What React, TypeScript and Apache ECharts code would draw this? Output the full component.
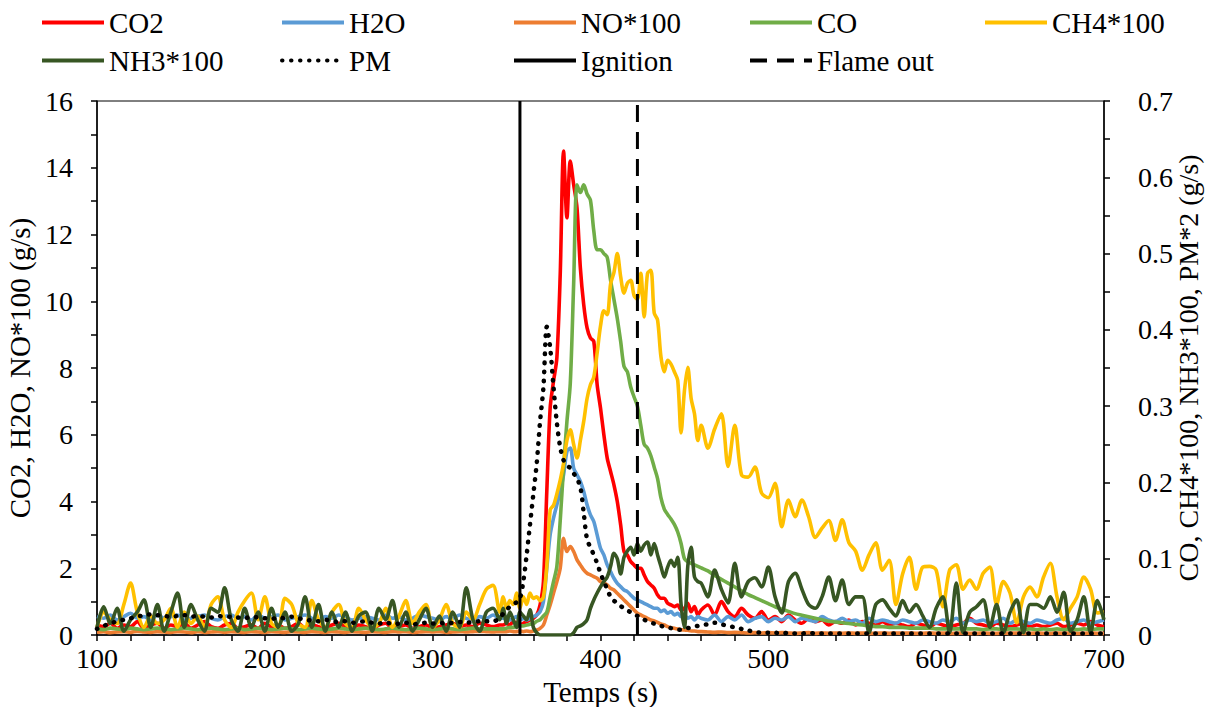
import { useEffect, useRef } from 'react';
import * as echarts from 'echarts';

// Time grid (s)
const T = [
  100,104,108,112,116,120,124,128,132,136,
  140,144,148,152,156,160,164,168,172,176,
  180,184,188,192,196,200,204,208,212,216,
  220,224,228,232,236,240,244,248,252,256,
  260,264,268,272,276,280,284,288,292,296,
  300,304,308,312,316,320,324,328,332,336,
  340,
  342,344,346,348,350,352,354,356,358,360,
  362,364,366,368,370,372,374,376,378,380,
  382,384,386,388,390,392,394,396,398,400,
  402,404,406,408,410,412,414,416,418,420,
  422,424,426,428,430,432,434,436,438,440,
  442,444,446,448,450,452,454,456,458,460,
  464,468,472,476,480,484,488,492,496,500,
  504,508,512,516,520,524,528,532,536,540,
  544,548,552,556,560,564,568,572,576,580,
  584,588,592,596,600,604,608,612,616,620,
  624,628,632,636,640,644,648,652,656,660,
  664,668,672,676,680,684,688,692,696,700,
];

// Left axis (g/s)
const CO2 = [
  0.3,0.25,0.35,0.2,0.3,0.25,0.4,0.2,0.3,0.35,
  0.2,0.3,0.25,0.35,0.2,0.3,0.4,0.25,0.2,0.3,
  0.35,0.2,0.25,0.3,0.2,0.35,0.25,0.3,0.2,0.25,
  0.35,0.2,0.3,0.25,0.2,0.3,0.35,0.25,0.2,0.3,
  0.25,0.2,0.3,0.35,0.2,0.25,0.3,0.2,0.25,0.3,
  0.2,0.25,0.3,0.35,0.25,0.3,0.25,0.35,0.3,0.25,
  0.3,
  0.3,0.35,0.3,0.4,0.35,0.3,0.35,0.4,0.45,0.5,
  0.6,0.9,1.6,4.3,6.8,7.6,8.3,10.8,14.5,12.5,
  14.2,13.5,12.8,11.0,9.9,9.2,8.9,8.8,7.5,6.8,
  6.0,5.3,4.9,4.5,4.0,3.3,2.5,2.4,2.2,2.1,
  2.0,2.0,1.8,1.6,1.5,1.4,1.2,1.1,1.1,0.95,
  0.9,0.85,0.9,0.75,0.8,0.95,0.7,0.85,0.6,0.75,
  0.9,0.6,1.0,0.7,0.55,0.8,0.6,0.5,0.7,0.45,
  0.55,0.4,0.6,0.45,0.35,0.5,0.4,0.45,0.3,0.4,
  0.35,0.45,0.3,0.4,0.35,0.3,0.4,0.3,0.35,0.3,
  0.25,0.35,0.3,0.25,0.35,0.3,0.25,0.3,0.35,0.5,
  0.35,0.3,0.25,0.35,0.3,0.25,0.3,0.35,0.25,0.3,
  0.25,0.3,0.35,0.25,0.3,0.35,0.3,0.4,0.3,0.25,
];

const H2O = [
  0.55,0.5,0.6,0.45,0.55,0.65,0.5,0.55,0.45,0.6,
  0.5,0.55,0.6,0.45,0.5,0.55,0.6,0.5,0.45,0.55,
  0.6,0.5,0.55,0.45,0.6,0.5,0.55,0.6,0.45,0.5,
  0.55,0.6,0.5,0.45,0.55,0.5,0.6,0.55,0.45,0.5,
  0.55,0.5,0.45,0.6,0.5,0.55,0.45,0.5,0.6,0.55,
  0.5,0.45,0.55,0.5,0.6,0.5,0.45,0.55,0.5,0.6,
  0.5,
  0.5,0.55,0.45,0.5,0.55,0.45,0.5,0.45,0.5,0.55,
  0.6,0.7,1.0,2.0,3.0,3.5,3.9,4.3,4.8,5.5,
  5.6,5.0,4.8,4.6,4.3,3.9,3.6,3.4,3.0,2.6,
  2.4,2.1,1.9,1.7,1.55,1.45,1.35,1.3,1.2,1.1,
  1.05,1.0,0.95,0.9,0.85,0.8,0.8,0.7,0.75,0.65,
  0.7,0.6,0.65,0.55,0.6,0.5,0.55,0.45,0.55,0.5,
  0.45,0.6,0.4,0.55,0.45,0.6,0.4,0.5,0.55,0.4,
  0.5,0.45,0.55,0.4,0.5,0.45,0.4,0.55,0.45,0.4,
  0.5,0.4,0.45,0.35,0.5,0.4,0.45,0.4,0.35,0.45,
  0.4,0.35,0.45,0.4,0.35,0.45,0.4,0.5,0.35,0.45,
  0.4,0.45,0.35,0.4,0.5,0.35,0.45,0.4,0.35,0.45,
  0.4,0.35,0.45,0.5,0.35,0.4,0.45,0.35,0.4,0.45,
];

const NO100 = [
  0.08,0.1,0.07,0.09,0.1,0.08,0.11,0.09,0.08,0.1,
  0.09,0.08,0.1,0.09,0.07,0.1,0.08,0.09,0.1,0.08,
  0.1,0.09,0.08,0.1,0.09,0.08,0.1,0.09,0.08,0.1,
  0.09,0.08,0.1,0.09,0.08,0.1,0.09,0.08,0.1,0.09,
  0.08,0.1,0.09,0.08,0.1,0.09,0.1,0.08,0.09,0.1,
  0.09,0.1,0.08,0.09,0.1,0.09,0.1,0.11,0.1,0.09,
  0.1,
  0.1,0.1,0.12,0.1,0.1,0.12,0.1,0.12,0.1,0.12,
  0.15,0.2,0.3,0.6,0.9,1.25,1.6,2.0,2.9,2.5,
  2.65,2.5,2.25,2.1,1.95,1.85,1.8,1.75,1.7,1.6,
  1.55,1.5,1.4,1.35,1.25,1.15,1.05,0.95,0.85,0.75,
  0.65,0.6,0.55,0.5,0.45,0.42,0.38,0.33,0.3,0.25,
  0.22,0.2,0.18,0.16,0.15,0.14,0.12,0.12,0.1,0.1,
  0.09,0.08,0.09,0.07,0.08,0.07,0.06,0.07,0.06,0.07,
  0.06,0.07,0.06,0.05,0.06,0.07,0.05,0.06,0.05,0.06,
  0.05,0.06,0.05,0.06,0.05,0.05,0.06,0.05,0.06,0.05,
  0.06,0.05,0.05,0.06,0.05,0.06,0.05,0.05,0.06,0.05,
  0.05,0.06,0.05,0.05,0.06,0.05,0.06,0.05,0.05,0.06,
  0.05,0.05,0.06,0.05,0.06,0.05,0.05,0.06,0.05,0.05,
];

// Right axis (g/s)
const CO = [
  0.008,0.007,0.009,0.008,0.007,0.009,0.008,0.007,0.008,0.009,
  0.008,0.007,0.008,0.009,0.008,0.007,0.008,0.009,0.008,0.007,
  0.008,0.009,0.007,0.008,0.009,0.008,0.007,0.008,0.009,0.008,
  0.007,0.008,0.009,0.008,0.007,0.008,0.009,0.008,0.007,0.008,
  0.009,0.008,0.007,0.008,0.009,0.008,0.007,0.008,0.009,0.008,
  0.007,0.008,0.009,0.008,0.007,0.008,0.009,0.008,0.008,0.008,
  0.008,
  0.008,0.009,0.01,0.01,0.011,0.012,0.012,0.013,0.014,0.015,
  0.018,0.02,0.025,0.03,0.05,0.07,0.09,0.15,0.22,0.28,
  0.33,0.46,0.59,0.58,0.59,0.578,0.57,0.53,0.505,0.505,
  0.5,0.495,0.465,0.44,0.415,0.385,0.352,0.345,0.325,0.312,
  0.3,0.275,0.25,0.245,0.235,0.22,0.205,0.18,0.165,0.158,
  0.152,0.145,0.135,0.12,0.1,0.096,0.094,0.092,0.09,0.088,
  0.084,0.078,0.073,0.068,0.063,0.058,0.053,0.049,0.045,0.041,
  0.037,0.034,0.031,0.028,0.026,0.024,0.022,0.02,0.018,0.017,
  0.016,0.015,0.014,0.013,0.012,0.011,0.011,0.01,0.01,0.01,
  0.009,0.009,0.009,0.009,0.008,0.008,0.008,0.008,0.008,0.008,
  0.008,0.007,0.008,0.008,0.007,0.008,0.008,0.007,0.008,0.007,
  0.008,0.007,0.008,0.007,0.008,0.007,0.008,0.007,0.008,0.008,
];

const CH4100 = [
  0.01,0.03,0.02,0.015,0.04,0.068,0.03,0.01,0.025,0.015,
  0.02,0.035,0.01,0.03,0.015,0.025,0.01,0.04,0.05,0.02,
  0.01,0.03,0.045,0.055,0.02,0.05,0.015,0.01,0.048,0.04,
  0.015,0.01,0.045,0.02,0.01,0.03,0.04,0.015,0.01,0.035,
  0.02,0.01,0.015,0.035,0.01,0.025,0.045,0.015,0.03,0.04,
  0.01,0.02,0.04,0.015,0.01,0.03,0.02,0.04,0.06,0.065,
  0.03,
  0.05,0.035,0.045,0.04,0.055,0.035,0.05,0.04,0.055,0.048,
  0.05,0.045,0.05,0.09,0.164,0.17,0.185,0.203,0.225,0.255,
  0.269,0.25,0.232,0.255,0.28,0.31,0.328,0.338,0.37,0.405,
  0.425,0.42,0.46,0.475,0.5,0.47,0.448,0.461,0.465,0.445,
  0.44,0.474,0.417,0.474,0.478,0.422,0.413,0.365,0.345,0.36,
  0.355,0.345,0.334,0.265,0.32,0.351,0.31,0.29,0.255,0.275,
  0.245,0.27,0.29,0.221,0.275,0.21,0.207,0.22,0.186,0.18,
  0.199,0.142,0.177,0.155,0.177,0.155,0.128,0.14,0.15,0.124,
  0.151,0.121,0.11,0.085,0.105,0.121,0.085,0.098,0.04,0.08,
  0.102,0.06,0.089,0.09,0.085,0.037,0.085,0.092,0.06,0.072,
  0.06,0.081,0.089,0.04,0.07,0.055,0.016,0.05,0.063,0.05,
  0.076,0.094,0.05,0.02,0.035,0.05,0.076,0.06,0.029,0.03,
];

const NH3100 = [
  0.01,0.037,0.015,0.035,0.005,0.02,0.03,0.046,0.01,0.04,
  0.005,0.03,0.055,0.01,0.04,0.02,0.005,0.035,0.03,0.062,
  0.02,0.005,0.035,0.01,0.03,0.005,0.035,0.01,0.03,0.005,
  0.015,0.05,0.01,0.04,0.005,0.03,0.01,0.03,0.005,0.025,
  0.03,0.005,0.035,0.02,0.045,0.01,0.03,0.005,0.02,0.035,
  0.01,0.025,0.005,0.03,0.01,0.062,0.02,0.005,0.03,0.035,
  0.02,
  0.035,0.015,0.03,0.02,0.01,0.03,0.025,0.02,0.033,0.01,
  0.003,0,0,0,0,0,0,0,0,0,
  0,0.003,0.01,0.012,0.015,0.02,0.035,0.046,0.055,0.063,
  0.07,0.076,0.09,0.107,0.1,0.08,0.102,0.11,0.115,0.105,
  0.12,0.11,0.118,0.122,0.105,0.12,0.105,0.09,0.076,0.089,
  0.098,0.09,0.102,0.04,0.01,0.09,0.115,0.076,0.07,0.068,
  0.05,0.085,0.06,0.042,0.094,0.05,0.07,0.075,0.063,0.089,
  0.05,0.029,0.07,0.081,0.06,0.04,0.035,0.05,0.076,0.045,
  0.072,0.04,0.05,0.05,0.003,0.04,0.046,0.035,0.025,0.045,
  0.03,0.04,0.025,0.01,0.035,0.05,0.003,0.068,0.003,0.03,
  0.037,0.046,0.01,0.04,0.003,0.03,0.046,0.003,0.04,0.04,
  0.035,0.05,0.03,0.056,0.005,0.02,0.05,0.003,0.045,0.02,
];

const PM = [
  0.008,0.012,0.015,0.018,0.02,0.022,0.024,0.026,0.027,0.026,
  0.025,0.024,0.025,0.026,0.024,0.025,0.024,0.023,0.025,0.024,
  0.024,0.023,0.022,0.024,0.023,0.022,0.021,0.023,0.022,0.024,
  0.022,0.02,0.019,0.018,0.02,0.018,0.017,0.018,0.016,0.017,
  0.018,0.016,0.015,0.017,0.014,0.015,0.016,0.014,0.015,0.016,
  0.015,0.016,0.015,0.016,0.017,0.016,0.017,0.018,0.018,0.018,
  0.022,
  0.028,0.033,0.037,0.04,0.043,0.048,0.07,0.105,0.145,0.185,
  0.225,0.28,0.325,0.404,0.377,0.325,0.278,0.246,0.229,0.222,
  0.219,0.212,0.205,0.194,0.16,0.125,0.115,0.105,0.094,0.081,
  0.07,0.06,0.05,0.045,0.042,0.038,0.035,0.032,0.03,0.027,
  0.025,0.022,0.02,0.018,0.016,0.015,0.014,0.012,0.011,0.01,
  0.009,0.008,0.007,0.007,0.008,0.009,0.01,0.011,0.012,0.013,
  0.014,0.016,0.014,0.012,0.01,0.008,0.006,0.004,0.003,0.003,
  0.003,0.002,0.003,0.002,0.002,0.003,0.002,0.002,0.002,0.002,
  0.002,0.002,0.002,0.002,0.002,0.002,0.002,0.002,0.002,0.002,
  0.002,0.002,0.002,0.002,0.002,0.002,0.002,0.002,0.002,0.002,
  0.002,0.002,0.002,0.002,0.002,0.002,0.002,0.002,0.002,0.002,
  0.002,0.002,0.002,0.002,0.002,0.002,0.002,0.002,0.002,0.002,
];

// Event markers (s)
const IGNITION_T = 352;
const FLAME_OUT_T = 422;

const X_TICKS = [100, 700, 100];
const Y_LEFT = [0, 16, 2];
const Y_RIGHT = [0, 0.7, 0.1];

export default function App() {
  const ref = useRef<HTMLDivElement>(null);

  useEffect(() => {
    const chart = echarts.init(ref.current as HTMLDivElement, null, { renderer: 'svg' });
    const font = 'Liberation Serif';
    const pair = (arr: number[]) => T.map((t, i) => [t, arr[i]]);
    const mk = (name: string, arr: number[], color: string, yAxisIndex: number, extra: any = {}) => ({
      name,
      type: 'line',
      yAxisIndex,
      data: pair(arr),
      symbol: 'none',
      showSymbol: false,
      smooth: 0.3,
      lineStyle: { color, width: 3.6, ...extra },
      itemStyle: { color },
      emphasis: { disabled: true },
    });

    const legendItems = [
      { name: 'CO2', left: 40, top: 8 },
      { name: 'H2O', left: 280, top: 8 },
      { name: 'NO*100', left: 512, top: 8 },
      { name: 'CO', left: 748, top: 8 },
      { name: 'CH4*100', left: 983, top: 8 },
      { name: 'NH3*100', left: 40, top: 46 },
      { name: 'PM', left: 280, top: 46 },
      { name: 'Ignition', left: 512, top: 46 },
      { name: 'Flame out', left: 748, top: 46 },
    ];

    const axisCommon = {
      axisLine: { show: true, lineStyle: { color: '#000', width: 1.5 } },
      axisTick: { show: true, inside: false, length: 6, lineStyle: { color: '#000', width: 1.5 } },
      minorTick: { show: true, length: 6, lineStyle: { color: '#000', width: 1.5 } },
      splitLine: { show: false },
      axisLabel: { color: '#000', fontFamily: font, fontSize: 28 },
      nameTextStyle: { color: '#000', fontFamily: font, fontSize: 29 },
    };

    chart.setOption({
      animation: false,
      backgroundColor: '#fff',
      textStyle: { fontFamily: font },
      grid: {
        left: 97,
        right: 106,
        top: 101,
        bottom: 72,
        show: true,
        borderColor: '#000',
        borderWidth: 1,
        outerBoundsMode: 'none',
        containLabel: false,
      },
      legend: legendItems.map((it) => ({
        data: [it.name],
        left: it.left,
        top: it.top,
        padding: 0,
        itemWidth: 62,
        itemHeight: 14,
        selectedMode: false,
        itemStyle: { opacity: 0, color: 'rgba(0,0,0,0)', borderWidth: 0 },
        lineStyle: { width: 4 },
        textStyle: { color: '#000', fontFamily: font, fontSize: 29 },
      })),
      xAxis: {
        ...axisCommon,
        type: 'value',
        min: X_TICKS[0],
        max: X_TICKS[1],
        interval: X_TICKS[2],
        minorTick: { ...axisCommon.minorTick, splitNumber: 5 },
        name: 'Temps (s)',
        nameLocation: 'middle',
        nameGap: 42,
        axisLabel: { ...axisCommon.axisLabel, margin: 9 },
      },
      yAxis: [
        {
          ...axisCommon,
          type: 'value',
          position: 'left',
          min: Y_LEFT[0],
          max: Y_LEFT[1],
          interval: Y_LEFT[2],
          minorTick: { ...axisCommon.minorTick, splitNumber: 2 },
          name: 'CO2, H2O, NO*100 (g/s)',
          nameLocation: 'middle',
          nameRotate: 90,
          nameGap: 56,
          axisLabel: { ...axisCommon.axisLabel, margin: 24 },
        },
        {
          ...axisCommon,
          type: 'value',
          position: 'right',
          min: Y_RIGHT[0],
          max: Y_RIGHT[1],
          interval: Y_RIGHT[2],
          minorTick: { ...axisCommon.minorTick, splitNumber: 2 },
          name: 'CO, CH4*100, NH3*100, PM*2 (g/s)',
          nameLocation: 'middle',
          nameRotate: 90,
          nameGap: 70,
          nameMoveOverlap: false,
          nameTextStyle: { color: '#000', fontFamily: font, fontSize: 28 },
          axisLabel: {
            ...axisCommon.axisLabel,
            margin: 34,
            formatter: (v: number) => (v === 0 ? '0' : v.toFixed(1)),
          },
        },
      ],
      series: [
        mk('CO2', CO2, '#FF0000', 0),
        mk('H2O', H2O, '#5B9BD5', 0),
        mk('NO*100', NO100, '#ED7D31', 0),
        mk('CO', CO, '#70AD47', 1),
        mk('CH4*100', CH4100, '#FFC000', 1),
        mk('NH3*100', NH3100, '#375623', 1),
        mk('PM', PM, '#000000', 1, { type: [0.5, 8.5], cap: 'round', width: 4.5 }),
        {
          name: 'Ignition',
          type: 'line',
          yAxisIndex: 0,
          data: [[IGNITION_T, Y_LEFT[0]], [IGNITION_T, Y_LEFT[1]]],
          symbol: 'none',
          lineStyle: { color: '#000', width: 3 },
          itemStyle: { color: '#000' },
          z: 5,
        },
        {
          name: 'Flame out',
          type: 'line',
          yAxisIndex: 0,
          data: [[FLAME_OUT_T, Y_LEFT[0]], [FLAME_OUT_T, Y_LEFT[1]]],
          symbol: 'none',
          lineStyle: { color: '#000', width: 3, type: [17, 10] },
          itemStyle: { color: '#000' },
          z: 5,
        },
      ],
    });

    return () => chart.dispose();
  }, []);

  return (
    <div
      ref={ref}
      style={{ position: 'fixed', left: 0, top: 0, width: 1210, height: 707, background: '#fff' }}
    />
  );
}
